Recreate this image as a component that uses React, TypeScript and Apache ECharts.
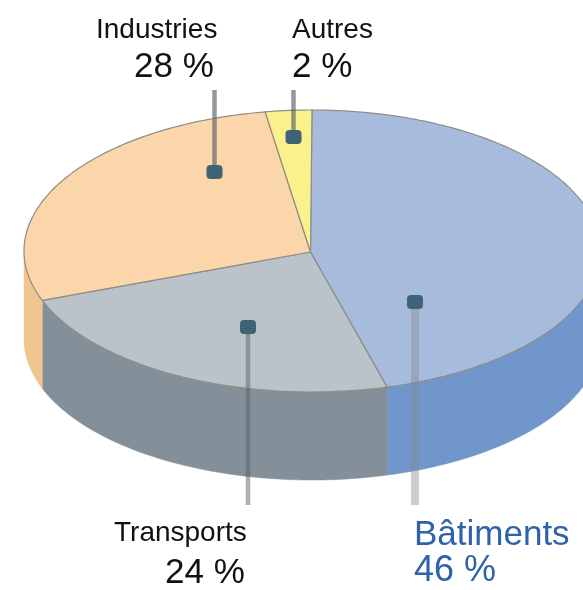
import React, { useEffect, useRef } from "react";
import * as echarts from "echarts";

const categories = ["Bâtiments", "Transports", "Industries", "Autres"];
// Slice sizes as measured on the drawing (its angles differ slightly from the printed percentages).
const shares = [45.8, 23.5, 28.1, 2.6];
const percentLabels = ["46 %", "24 %", "28 %", "2 %"];

const topColors = ["#a7bcdc", "#bac2ca", "#fbd6ab", "#faf08c"];
const sideColors = ["#7096cb", "#838f99", "#efc48f", "#e8dc80"];

const CX = 312, CY = 251, RX = 288, RY = 141, DEPTH = 88;
const TIP = [310.5, 252];
const FONT = "'Liberation Sans', Arial, sans-serif";

const callouts = [
  { lineX: 415, y1: 302, y2: 505, w: 8, color: "rgba(130,135,145,0.42)", dotY: 302, nameX: 414, nameY: 532, pctX: 414, pctY: 568, nameSize: 35, pctSize: 36, textColor: "#2f62ab" },
  { lineX: 248, y1: 327, y2: 505, w: 4.5, color: "rgba(90,95,105,0.5)", dotY: 327, nameX: 114, nameY: 531, pctX: 165, pctY: 570, nameSize: 28, pctSize: 35, textColor: "#111111" },
  { lineX: 214.5, y1: 90, y2: 172, w: 4.5, color: "rgba(90,95,105,0.65)", dotY: 172, nameX: 96, nameY: 28, pctX: 134, pctY: 64, nameSize: 28, pctSize: 35, textColor: "#111111" },
  { lineX: 293.5, y1: 90, y2: 137, w: 4.5, color: "rgba(90,95,105,0.65)", dotY: 137, nameX: 292, nameY: 28, pctX: 292, pctY: 64, nameSize: 28, pctSize: 35, textColor: "#111111" },
];

function rim(deg: number, drop = 0): number[] {
  const t = (deg * Math.PI) / 180;
  return [CX + RX * Math.sin(t), CY - RY * Math.cos(t) + drop];
}

function arcPoints(from: number, to: number, drop = 0): number[][] {
  const pts: number[][] = [];
  const n = Math.max(2, Math.ceil(Math.abs(to - from)));
  for (let i = 0; i <= n; i++) pts.push(rim(from + ((to - from) * i) / n, drop));
  return pts;
}

function renderSlice(params: any, api: any) {
  const i = params.dataIndex;
  const total = shares.reduce((a, b) => a + b, 0);
  const before = shares.slice(0, i).reduce((a, b) => a + b, 0);
  const a0 = (before / total) * 360;
  const a1 = ((before + api.value(0)) / total) * 360;
  const children: any[] = [];
  const w0 = Math.max(a0, 90), w1 = Math.min(a1, 270);
  if (w1 > w0) {
    children.push({
      type: "polygon",
      shape: { points: [...arcPoints(w0, w1), ...arcPoints(w1, w0, DEPTH)] },
      style: { fill: sideColors[i], stroke: sideColors[i], lineWidth: 0.5 },
    });
  }
  children.push({
    type: "polygon",
    shape: { points: [TIP, ...arcPoints(a0, a1)] },
    style: { fill: topColors[i], stroke: "#8d8d86", lineWidth: 1.2 },
  });
  return { type: "group", children };
}

export default function App() {
  const ref = useRef<HTMLDivElement>(null);
  useEffect(() => {
    const chart = echarts.init(ref.current!, undefined, { renderer: "svg" });
    const graphic: any[] = [];
    callouts.forEach((c, i) => {
      graphic.push({ type: "rect", z: 50, shape: { x: c.lineX - c.w / 2, y: c.y1, width: c.w, height: c.y2 - c.y1 }, style: { fill: c.color } });
      graphic.push({ type: "rect", z: 51, shape: { x: c.lineX - 8, y: c.dotY - 7, width: 16, height: 14, r: 4 }, style: { fill: "#3f6274" } });
      graphic.push({ type: "text", z: 52, x: c.nameX, y: c.nameY, style: { text: categories[i], font: `${c.nameSize}px ${FONT}`, fill: c.textColor, textAlign: "left", textVerticalAlign: "middle" } });
      graphic.push({ type: "text", z: 52, x: c.pctX, y: c.pctY, style: { text: percentLabels[i], font: `${c.pctSize}px ${FONT}`, fill: c.textColor, textAlign: "left", textVerticalAlign: "middle" } });
    });
    chart.setOption({
      animation: false,
      backgroundColor: "#ffffff",
      series: [{
        type: "custom",
        coordinateSystem: "none",
        renderItem: renderSlice,
        data: shares.map((v, i) => ({ name: categories[i], value: [v] })),
        silent: true,
        z: 2,
      }],
      graphic,
    });
    return () => chart.dispose();
  }, []);
  return <div ref={ref} style={{ position: "fixed", left: 0, top: 0, width: 583, height: 590, filter: "blur(0.6px)" }} />;
}
